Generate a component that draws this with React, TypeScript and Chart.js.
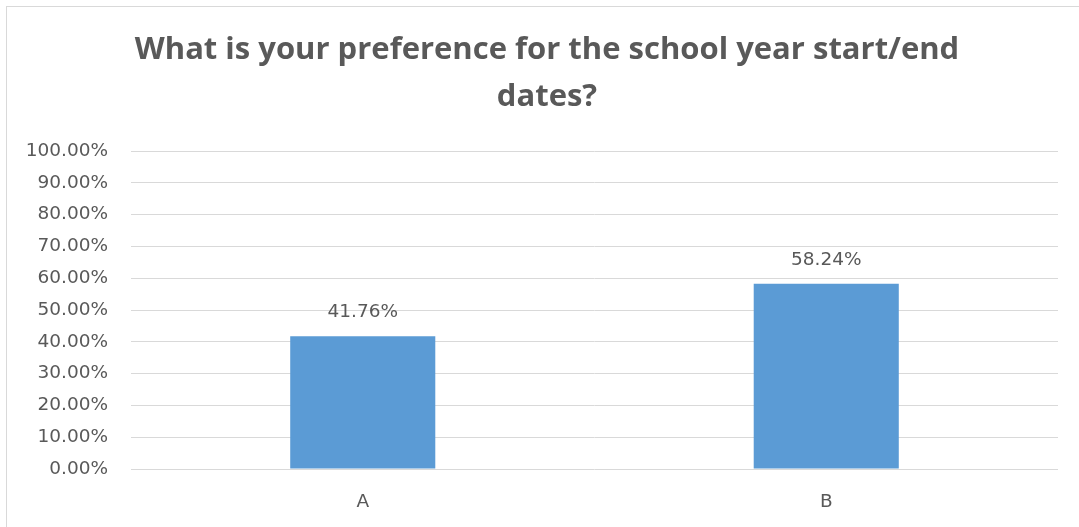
import React, { useEffect, useRef } from "react";
import { Chart, registerables } from "chart.js";

Chart.register(...registerables);

const TITLE_LINES = ["What is your preference for the school year start/end", "dates?"];
const CATEGORIES = ["A", "B"];
const VALUES = [41.76, 58.24];
const Y_MAX = 100;
const Y_STEP = 10;

const TEXT = "#595959";
const TITLE_FONT = "'Open Sans', sans-serif";
const FONT = "'DejaVu Sans', sans-serif";
const TICK_SIZE = 18.5;

const dataLabels = {
  id: "dataLabels",
  afterDatasetsDraw(chart: any) {
    const ctx = chart.ctx;
    const meta = chart.getDatasetMeta(0);
    ctx.save();
    ctx.fillStyle = TEXT;
    ctx.font = `${TICK_SIZE}px ${FONT}`;
    ctx.textAlign = "center";
    ctx.textBaseline = "middle";
    meta.data.forEach((bar: any, i: number) => {
      const v = chart.data.datasets[0].data[i] as number;
      ctx.fillText(v.toFixed(2) + "%", bar.x, bar.y - 24);
    });
    ctx.restore();
  },
};

// Title centred on the chart frame (which is wider than the plot region)
const frameTitle = {
  id: "frameTitle",
  afterDraw(chart: any) {
    const ctx = chart.ctx;
    ctx.save();
    ctx.fillStyle = TEXT;
    ctx.font = `bold 31px ${TITLE_FONT}`;
    ctx.textAlign = "center";
    ctx.textBaseline = "middle";
    const cx = 547;
    TITLE_LINES.forEach((line, i) => {
      ctx.fillText(line, cx, 50 + i * 47);
    });
    ctx.restore();
  },
};

export default function App() {
  const ref = useRef<HTMLCanvasElement | null>(null);
  useEffect(() => {
    if (!ref.current) return;
    const chart = new Chart(ref.current, {
      type: "bar",
      data: {
        labels: CATEGORIES,
        datasets: [
          {
            data: VALUES,
            backgroundColor: "#5B9BD5",
            borderWidth: 0,
            categoryPercentage: 1,
            barPercentage: 0.313,
          },
        ],
      },
      options: {
        responsive: false,
        animation: false,
        layout: { padding: { top: 151, right: 21, bottom: 0, left: 0 } },
        plugins: {
          legend: { display: false },
          tooltip: { enabled: false },
          title: { display: false },
        },
        scales: {
          x: {
            grid: { display: false, drawTicks: false },
            border: { display: false },
            ticks: { color: TEXT, font: { family: FONT, size: TICK_SIZE }, padding: 22 },
            afterFit(scale: any) {
              scale.height = 58;
            },
          },
          y: {
            min: 0,
            max: Y_MAX,
            grid: { color: "#d9d9d9", lineWidth: 1, drawTicks: false },
            border: { display: false },
            ticks: {
              stepSize: Y_STEP,
              color: TEXT,
              font: { family: FONT, size: TICK_SIZE },
              padding: 23,
              callback: (v: any) => Number(v).toFixed(2) + "%",
            },
            afterFit(scale: any) {
              scale.width = 131;
            },
          },
        },
      },
      plugins: [dataLabels, frameTitle],
    });
    return () => chart.destroy();
  }, []);

  return (
    <div style={{ position: "fixed", left: 0, top: 0, width: 1079, height: 527, background: "#fff", overflow: "hidden" }}>
      <div
        style={{
          position: "absolute",
          left: 6,
          top: 6,
          width: 1200,
          height: 700,
          border: "1px solid #d9d9d9",
          boxSizing: "border-box",
        }}
      />
      <canvas ref={ref} width={1079} height={527} style={{ position: "absolute", left: 0, top: 0 }} />
    </div>
  );
}
